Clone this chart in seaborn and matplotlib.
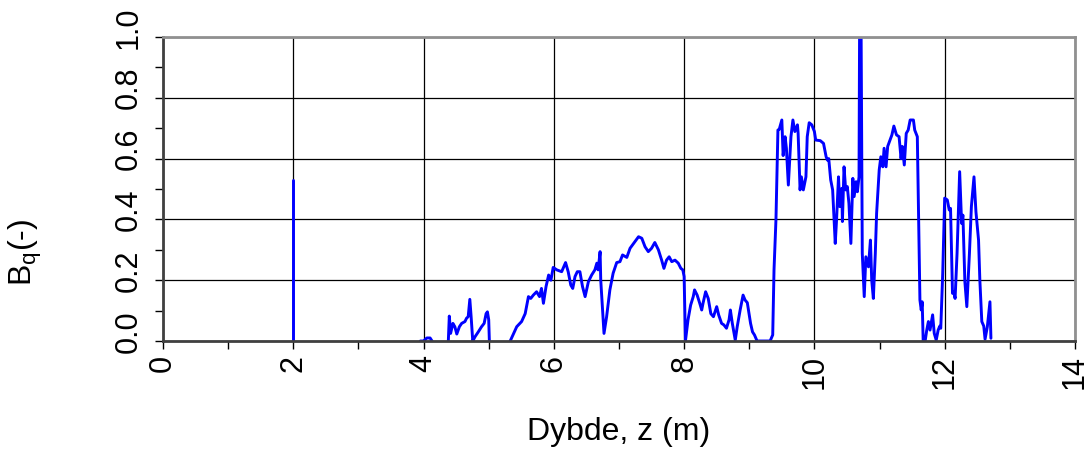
import numpy as np
import pandas as pd
import matplotlib
matplotlib.use("Agg")
import matplotlib.pyplot as plt
import matplotlib.transforms as mtransforms
import seaborn as sns
from matplotlib.ticker import MultipleLocator

# Data (depth z in m, Bq in -), split where the trace breaks
spike_z = [2.0, 2.0]
spike_bq = [0.0, 0.53]

bit_z = [3.95, 4.0, 4.05, 4.1, 4.13]
bit_bq = [0.0, 0.0, 0.01, 0.01, 0.0]

seg1_z = [4.38, 4.395, 4.415, 4.45, 4.48, 4.51, 4.55, 4.585, 4.635, 4.66, 4.685,
          4.71, 4.73, 4.755, 4.79, 4.84, 4.89, 4.93, 4.96, 4.98, 5.0, 5.01]
seg1_bq = [0.0, 0.082, 0.025, 0.058, 0.047, 0.023, 0.047, 0.058, 0.064, 0.075, 0.08,
           0.137, 0.08, 0.0, 0.014, 0.03, 0.047, 0.058, 0.09, 0.096, 0.07, 0.0]

seg2_z = [5.33, 5.43, 5.505, 5.56, 5.61, 5.645, 5.685, 5.735, 5.78, 5.81, 5.84,
          5.88, 5.92, 5.955, 5.99, 6.045, 6.12, 6.18, 6.22, 6.26, 6.29, 6.325,
          6.36, 6.40, 6.44, 6.48, 6.53, 6.58, 6.63, 6.66, 6.68, 6.71, 6.72,
          6.77, 6.81, 6.86, 6.91, 6.965, 7.015, 7.055, 7.12, 7.17, 7.245, 7.30,
          7.35, 7.40, 7.45, 7.50, 7.55, 7.605, 7.655, 7.69, 7.73, 7.77, 7.81,
          7.86, 7.91, 7.95, 7.98, 8.0, 8.02, 8.06, 8.10, 8.14, 8.16, 8.20,
          8.24, 8.27, 8.29, 8.33, 8.37, 8.41, 8.45, 8.50, 8.53, 8.575, 8.61,
          8.65, 8.69, 8.71, 8.74, 8.785, 8.815, 8.86, 8.905, 8.935, 8.97, 9.02,
          9.05, 9.08, 9.12, 9.27, 9.32, 9.36, 9.38, 9.41, 9.44, 9.46, 9.50,
          9.52, 9.55, 9.57, 9.60, 9.64, 9.67, 9.70, 9.74, 9.75, 9.78, 9.80,
          9.83, 9.87, 9.89, 9.92, 9.96, 10.0, 10.02, 10.09, 10.14, 10.18, 10.20,
          10.22, 10.25, 10.28, 10.32, 10.34, 10.37, 10.39, 10.42, 10.43, 10.455, 10.48,
          10.505, 10.53, 10.56, 10.59, 10.61, 10.64, 10.66, 10.685, 10.695, 10.715, 10.735,
          10.765, 10.79, 10.83, 10.86, 10.88, 10.905, 10.935, 10.955, 10.995, 11.02, 11.05,
          11.07, 11.10, 11.125, 11.16, 11.19, 11.22, 11.26, 11.30, 11.33, 11.35, 11.38,
          11.41, 11.44, 11.47, 11.52, 11.54, 11.58, 11.60, 11.62, 11.64, 11.655, 11.67,
          11.70, 11.725, 11.75, 11.775, 11.815, 11.84, 11.87, 11.90, 11.925, 11.94, 11.97,
          12.0, 12.04, 12.07, 12.09, 12.12, 12.14, 12.16, 12.19, 12.23, 12.26, 12.28,
          12.31, 12.34, 12.38, 12.41, 12.45, 12.48, 12.52, 12.54, 12.57, 12.60, 12.62,
          12.655, 12.695, 12.71]
seg2_bq = [0.0, 0.047, 0.064, 0.09, 0.146, 0.14, 0.151, 0.162, 0.146, 0.173, 0.124,
           0.179, 0.217, 0.2, 0.242, 0.234, 0.228, 0.258, 0.228, 0.184, 0.173, 0.212,
           0.228, 0.228, 0.179, 0.146, 0.195, 0.217, 0.234, 0.256, 0.234, 0.294, 0.2,
           0.025, 0.08, 0.168, 0.223, 0.258, 0.261, 0.283, 0.275, 0.305, 0.327, 0.343,
           0.338, 0.31, 0.294, 0.305, 0.324, 0.30, 0.266, 0.239, 0.266, 0.277, 0.261,
           0.266, 0.256, 0.239, 0.234, 0.212, 0.0, 0.07, 0.118, 0.146, 0.168, 0.151,
           0.124, 0.102, 0.124, 0.162, 0.14, 0.09, 0.08, 0.113, 0.086, 0.058, 0.053,
           0.042, 0.07, 0.102, 0.058, 0.003, 0.047, 0.102, 0.151, 0.135, 0.126, 0.058,
           0.03, 0.02, 0.0, 0.0, 0.0, 0.02, 0.234, 0.40, 0.694, 0.696, 0.727,
           0.61, 0.672, 0.634, 0.513, 0.672, 0.727, 0.689, 0.711, 0.683, 0.497, 0.54,
           0.497, 0.54, 0.672, 0.718, 0.711, 0.689, 0.661, 0.659, 0.65, 0.606, 0.595,
           0.60, 0.53, 0.497, 0.321, 0.398, 0.54, 0.442, 0.502, 0.393, 0.573, 0.497,
           0.508, 0.453, 0.321, 0.535, 0.475, 0.524, 0.491, 0.54, 1.1, 1.1, 0.288,
           0.146, 0.277, 0.244, 0.332, 0.2, 0.14, 0.288, 0.42, 0.563, 0.606, 0.573,
           0.634, 0.573, 0.64, 0.661, 0.678, 0.707, 0.678, 0.672, 0.60, 0.64, 0.579,
           0.683, 0.694, 0.727, 0.727, 0.694, 0.672, 0.398, 0.135, 0.102, 0.129, 0.0,
           0.0, 0.036, 0.064, 0.036, 0.086, 0.025, 0.003, 0.036, 0.049, 0.042, 0.223,
           0.47, 0.464, 0.431, 0.436, 0.157, 0.162, 0.14, 0.288, 0.557, 0.387, 0.414,
           0.195, 0.113, 0.288, 0.442, 0.54, 0.425, 0.332, 0.20, 0.064, 0.049, 0.006,
           0.047, 0.129, 0.009]

y_ticks = [0.0, 0.2, 0.4, 0.6, 0.8, 1.0]
y_ticklabels = ["0.0", "0.2", "0.4", "0.6", "0.8", "1.0"]

segments = [(spike_z, spike_bq), (bit_z, bit_bq), (seg1_z, seg1_bq), (seg2_z, seg2_bq)]
df = pd.concat(
    [pd.DataFrame({"z": z, "bq": b, "seg": i}) for i, (z, b) in enumerate(segments)],
    ignore_index=True,
)

sns.set_style("white")
plt.rcParams["font.family"] = ["Liberation Sans", "DejaVu Sans"]
plt.rcParams["text.color"] = "black"
plt.rcParams["axes.labelcolor"] = "black"
plt.rcParams["xtick.color"] = "black"
plt.rcParams["ytick.color"] = "black"

fig = plt.figure(figsize=(10.89, 4.5), dpi=100)
ax = fig.add_axes([0.1497, 0.2422, 0.8374, 0.6756])

sns.lineplot(data=df, x="z", y="bq", units="seg", estimator=None, sort=False,
             color="#0000FF", linewidth=2.1, ax=ax)

ax.set_xlim(0, 14)
ax.set_ylim(0, 1.0)
ax.xaxis.set_major_locator(MultipleLocator(2))
ax.xaxis.set_minor_locator(MultipleLocator(1))
ax.set_yticks(y_ticks)
ax.set_yticklabels(y_ticklabels)
ax.yaxis.set_minor_locator(MultipleLocator(0.1))

ax.grid(True, which="major", color="black", linewidth=0.9)
ax.set_axisbelow(True)

for side in ["left", "bottom"]:
    ax.spines[side].set_color("#404040")
    ax.spines[side].set_linewidth(2)
for side in ["top", "right"]:
    ax.spines[side].set_color("#909090")
    ax.spines[side].set_linewidth(2)

ax.tick_params(axis="both", which="both", direction="out", color="black",
               length=6, width=1, labelsize=22, labelcolor="black")
ax.tick_params(axis="x", which="both", bottom=True, pad=4, labelrotation=90)
ax.tick_params(axis="y", which="both", left=True, pad=8, labelrotation=90)
shift = mtransforms.ScaledTranslation(0, 7 / 72, fig.dpi_scale_trans)
for lbl in ax.get_yticklabels():
    lbl.set_verticalalignment("center")
    lbl.set_transform(lbl.get_transform() + shift)

ax.set_xlabel("Dybde, z (m)", fontsize=23)
ax.set_ylabel("B$_\\mathregular{q}$(-)", fontsize=23)
ax.xaxis.set_label_coords(0.5, -0.25)
ax.yaxis.set_label_coords(-0.13, 0.29)

fig.savefig("out.png", dpi=100)
